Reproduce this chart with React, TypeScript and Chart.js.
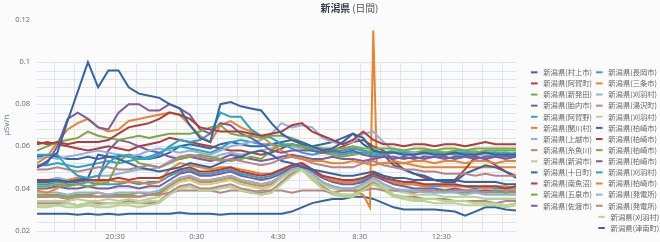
import { useEffect, useRef } from 'react';
import { Chart, registerables } from 'chart.js';

Chart.register(...registerables);

// ---------- DATA ----------
const times = ['16:40','17:10','17:40','18:10','18:40','19:10','19:40','20:10','20:40','21:10','21:40','22:10','22:40','23:10','23:40','0:10','0:40','1:10','1:40','2:10','2:40','3:10','3:40','4:10','4:40','5:10','5:40','6:10','6:40','7:10','7:40','8:10','8:40','9:10','9:40','10:10','10:40','11:10','11:40','12:10','12:40','13:10','13:40','14:10','14:40','15:10','15:40','16:10'];
const spikeTimes = ['16:40','17:10','17:40','18:10','18:40','19:10','19:40','20:10','20:40','21:10','21:40','22:10','22:40','23:10','23:40','0:10','0:40','1:10','1:40','2:10','2:40','3:10','3:40','4:10','4:40','5:10','5:40','6:10','6:40','7:10','7:40','8:10','8:40','9:00','9:10','9:20','9:40','10:10','10:40','11:10','11:40','12:10','12:40','13:10','13:40','14:10','14:40','15:10','15:40','16:10'];
const xTickLabels = ['20:30','0:30','4:30','8:30','12:30'];
const yTicks = [0.02, 0.04, 0.06, 0.08, 0.1, 0.12];

const seriesNames = ['新潟県(村上市)','新潟県(阿賀町)','新潟県(新発田)','新潟県(胎内市)','新潟県(阿賀野)','新潟県(関川村)','新潟県(上越市)','新潟県(糸魚川)','新潟県(新潟市)','新潟県(十日町)','新潟県(南魚沼)','新潟県(五泉市)','新潟県(佐渡市)','新潟県(長岡市)','新潟県(三条市)','新潟県(刈羽村)','新潟県(湯沢町)','新潟県(刈羽村)','新潟県(柏崎市)','新潟県(柏崎市)','新潟県(柏崎市)','新潟県(柏崎市)','新潟県(刈羽村)','新潟県(柏崎市)','新潟県(発電所)','新潟県(発電所)','新潟県(刈羽村)','新潟県(津南町)'];

const murakami = [0.050,0.053,0.057,0.072,0.086,0.100,0.088,0.096,0.096,0.088,0.085,0.084,0.083,0.080,0.078,0.070,0.064,0.062,0.080,0.081,0.079,0.078,0.077,0.071,0.066,0.063,0.062,0.060,0.058,0.059,0.062,0.066,0.064,0.058,0.057,0.057,0.056,0.056,0.057,0.056,0.056,0.057,0.056,0.056,0.057,0.056,0.056,0.056];
const aga = [0.062,0.061,0.062,0.061,0.062,0.062,0.062,0.063,0.066,0.069,0.070,0.071,0.073,0.076,0.075,0.073,0.069,0.068,0.067,0.067,0.067,0.066,0.065,0.066,0.067,0.070,0.071,0.067,0.065,0.063,0.061,0.063,0.067,0.063,0.061,0.061,0.060,0.061,0.061,0.060,0.061,0.061,0.060,0.061,0.062,0.061,0.061,0.061];
const shibata = [0.058,0.060,0.062,0.063,0.064,0.067,0.065,0.064,0.063,0.064,0.065,0.064,0.065,0.066,0.066,0.066,0.067,0.069,0.070,0.066,0.065,0.065,0.064,0.065,0.065,0.064,0.062,0.060,0.059,0.059,0.059,0.060,0.059,0.059,0.059,0.059,0.058,0.059,0.059,0.058,0.059,0.059,0.058,0.059,0.059,0.059,0.059,0.059];
const tainai = [0.050,0.052,0.060,0.073,0.076,0.073,0.069,0.068,0.076,0.080,0.080,0.077,0.077,0.080,0.078,0.075,0.068,0.066,0.071,0.070,0.066,0.064,0.061,0.058,0.057,0.058,0.058,0.058,0.057,0.058,0.057,0.058,0.056,0.055,0.055,0.055,0.054,0.055,0.054,0.055,0.055,0.054,0.055,0.055,0.054,0.055,0.055,0.055];
const agano = [0.056,0.056,0.056,0.050,0.046,0.045,0.046,0.052,0.056,0.055,0.054,0.054,0.056,0.060,0.063,0.062,0.063,0.066,0.076,0.074,0.074,0.068,0.065,0.064,0.061,0.059,0.057,0.056,0.057,0.057,0.056,0.057,0.057,0.056,0.056,0.057,0.057,0.056,0.057,0.057,0.056,0.057,0.057,0.056,0.057,0.057,0.056,0.057];
const sekikawa = [0.052,0.055,0.062,0.068,0.071,0.073,0.069,0.067,0.068,0.072,0.073,0.074,0.075,0.076,0.075,0.070,0.065,0.062,0.070,0.072,0.069,0.067,0.065,0.061,0.058,0.055,0.054,0.053,0.053,0.052,0.052,0.053,0.052,0.051,0.052,0.053,0.052,0.053,0.053,0.052,0.053,0.053,0.052,0.053,0.053,0.052,0.053,0.053];
const joetsu = [0.054,0.055,0.054,0.055,0.056,0.057,0.058,0.057,0.056,0.055,0.056,0.058,0.059,0.058,0.057,0.058,0.057,0.056,0.058,0.060,0.061,0.062,0.063,0.066,0.071,0.069,0.070,0.069,0.064,0.062,0.061,0.062,0.066,0.067,0.062,0.058,0.057,0.057,0.056,0.057,0.056,0.057,0.057,0.056,0.056,0.057,0.056,0.056];
const itoigawa = [0.049,0.049,0.050,0.049,0.048,0.049,0.050,0.050,0.049,0.049,0.050,0.051,0.050,0.052,0.055,0.056,0.055,0.054,0.053,0.054,0.053,0.052,0.051,0.052,0.054,0.055,0.054,0.052,0.051,0.050,0.050,0.050,0.052,0.053,0.051,0.050,0.049,0.049,0.048,0.048,0.047,0.047,0.047,0.046,0.047,0.046,0.046,0.046];
const niigata = [0.032,0.032,0.032,0.033,0.032,0.033,0.032,0.033,0.033,0.033,0.033,0.034,0.034,0.037,0.040,0.041,0.039,0.039,0.040,0.041,0.039,0.038,0.037,0.038,0.042,0.046,0.049,0.045,0.040,0.038,0.037,0.037,0.039,0.042,0.040,0.037,0.036,0.035,0.035,0.035,0.034,0.034,0.034,0.033,0.033,0.033,0.032,0.033];
const tokamachi = [0.043,0.043,0.044,0.043,0.044,0.045,0.056,0.055,0.054,0.052,0.050,0.049,0.048,0.049,0.050,0.052,0.051,0.050,0.052,0.054,0.055,0.057,0.058,0.056,0.053,0.052,0.050,0.049,0.048,0.047,0.046,0.046,0.047,0.048,0.046,0.045,0.045,0.044,0.044,0.044,0.044,0.044,0.043,0.043,0.043,0.043,0.042,0.042];
const minamiuonuma = [0.044,0.044,0.044,0.043,0.044,0.044,0.044,0.044,0.045,0.044,0.045,0.045,0.045,0.047,0.049,0.050,0.048,0.048,0.049,0.050,0.048,0.047,0.046,0.047,0.049,0.051,0.052,0.049,0.046,0.045,0.044,0.044,0.045,0.047,0.045,0.044,0.043,0.043,0.042,0.042,0.042,0.042,0.041,0.041,0.041,0.041,0.040,0.041];
const gosen = [0.041,0.041,0.042,0.041,0.042,0.041,0.042,0.043,0.053,0.056,0.052,0.051,0.050,0.052,0.054,0.055,0.056,0.055,0.054,0.053,0.054,0.055,0.054,0.058,0.061,0.061,0.060,0.058,0.057,0.056,0.055,0.056,0.057,0.058,0.057,0.058,0.058,0.057,0.058,0.058,0.057,0.058,0.058,0.057,0.058,0.058,0.058,0.058];
const sado = [0.043,0.043,0.044,0.043,0.043,0.044,0.044,0.058,0.063,0.062,0.060,0.058,0.057,0.055,0.054,0.055,0.054,0.053,0.054,0.056,0.055,0.054,0.053,0.054,0.055,0.056,0.055,0.054,0.054,0.055,0.054,0.054,0.053,0.054,0.055,0.054,0.055,0.054,0.055,0.055,0.054,0.055,0.055,0.054,0.055,0.055,0.054,0.055];
const nagaoka = [0.051,0.051,0.052,0.051,0.050,0.051,0.052,0.053,0.052,0.053,0.054,0.055,0.057,0.059,0.060,0.059,0.058,0.057,0.059,0.062,0.063,0.062,0.061,0.061,0.060,0.061,0.060,0.059,0.059,0.058,0.058,0.059,0.058,0.057,0.057,0.057,0.056,0.057,0.056,0.057,0.057,0.056,0.056,0.057,0.056,0.056,0.057,0.056];
const sanjo = [0.039,0.038,0.040,0.044,0.045,0.044,0.043,0.044,0.043,0.043,0.043,0.042,0.043,0.049,0.052,0.051,0.050,0.049,0.050,0.050,0.049,0.048,0.047,0.047,0.049,0.051,0.052,0.049,0.046,0.044,0.043,0.043,0.045,0.047,0.045,0.043,0.042,0.042,0.041,0.042,0.041,0.041,0.041,0.041,0.040,0.041,0.041,0.040];
const kariwa1 = [0.038,0.038,0.038,0.037,0.038,0.038,0.038,0.037,0.038,0.038,0.038,0.038,0.039,0.042,0.045,0.046,0.044,0.044,0.045,0.046,0.044,0.043,0.042,0.043,0.046,0.049,0.050,0.047,0.043,0.041,0.040,0.040,0.042,0.045,0.042,0.040,0.039,0.039,0.038,0.038,0.038,0.038,0.037,0.038,0.037,0.037,0.037,0.037];
const yuzawa = [0.036,0.036,0.036,0.035,0.036,0.036,0.036,0.036,0.036,0.036,0.036,0.037,0.037,0.038,0.039,0.039,0.039,0.039,0.038,0.039,0.039,0.038,0.039,0.039,0.039,0.038,0.039,0.039,0.039,0.038,0.039,0.039,0.039,0.040,0.039,0.039,0.039,0.038,0.039,0.039,0.038,0.039,0.039,0.039,0.038,0.039,0.039,0.039];
const kariwa2 = [0.034,0.034,0.034,0.034,0.035,0.034,0.034,0.035,0.034,0.035,0.034,0.035,0.036,0.040,0.043,0.044,0.042,0.042,0.043,0.044,0.042,0.041,0.040,0.041,0.045,0.048,0.050,0.046,0.042,0.040,0.039,0.039,0.041,0.044,0.041,0.039,0.038,0.037,0.037,0.037,0.036,0.036,0.036,0.036,0.035,0.035,0.035,0.035];
const kashiwazaki1 = [0.055,0.056,0.055,0.054,0.054,0.055,0.054,0.055,0.055,0.056,0.055,0.054,0.055,0.057,0.060,0.061,0.060,0.059,0.061,0.062,0.061,0.060,0.060,0.061,0.062,0.063,0.061,0.060,0.061,0.062,0.064,0.066,0.061,0.058,0.056,0.051,0.049,0.047,0.046,0.044,0.043,0.043,0.047,0.049,0.051,0.050,0.048,0.045];
const kashiwazaki2 = [0.061,0.062,0.061,0.060,0.059,0.058,0.059,0.060,0.059,0.058,0.060,0.061,0.062,0.064,0.063,0.062,0.061,0.060,0.059,0.058,0.058,0.057,0.056,0.057,0.059,0.061,0.060,0.058,0.057,0.058,0.060,0.062,0.063,0.060,0.058,0.053,0.049,0.047,0.045,0.044,0.043,0.044,0.049,0.055,0.054,0.051,0.048,0.046];
const kashiwazaki3 = [0.037,0.037,0.037,0.036,0.037,0.037,0.038,0.037,0.037,0.037,0.038,0.037,0.038,0.042,0.045,0.046,0.044,0.044,0.045,0.046,0.044,0.043,0.042,0.043,0.046,0.049,0.050,0.047,0.043,0.041,0.040,0.040,0.042,0.045,0.042,0.040,0.039,0.039,0.039,0.038,0.039,0.038,0.038,0.038,0.038,0.038,0.038,0.038];
const kashiwazaki4 = [0.040,0.040,0.041,0.040,0.040,0.041,0.040,0.040,0.041,0.041,0.040,0.041,0.041,0.044,0.047,0.048,0.046,0.046,0.047,0.048,0.046,0.045,0.044,0.045,0.047,0.050,0.051,0.048,0.045,0.043,0.042,0.042,0.043,0.046,0.044,0.042,0.041,0.040,0.040,0.040,0.039,0.040,0.039,0.039,0.039,0.039,0.038,0.039];
const kariwa3 = [0.042,0.042,0.043,0.042,0.042,0.043,0.042,0.042,0.042,0.043,0.042,0.043,0.043,0.046,0.048,0.049,0.047,0.047,0.048,0.049,0.047,0.046,0.045,0.046,0.048,0.050,0.051,0.049,0.046,0.044,0.043,0.043,0.044,0.047,0.045,0.043,0.042,0.042,0.041,0.041,0.041,0.041,0.041,0.040,0.041,0.040,0.040,0.040];
const kashiwazaki5 = [0.036,0.036,0.037,0.036,0.037,0.037,0.036,0.037,0.037,0.037,0.036,0.037,0.037,0.041,0.044,0.045,0.043,0.043,0.044,0.045,0.043,0.042,0.041,0.042,0.045,0.048,0.049,0.046,0.042,0.040,0.039,0.039,0.037,0.031,0.115,0.052,0.052,0.052,0.052,0.051,0.050,0.050,0.050,0.050,0.050,0.050,0.050,0.050,0.050,0.050];
const hatsudensho1 = [0.044,0.044,0.045,0.044,0.045,0.045,0.046,0.046,0.047,0.048,0.049,0.049,0.050,0.053,0.055,0.056,0.055,0.054,0.056,0.057,0.056,0.057,0.058,0.059,0.061,0.060,0.059,0.058,0.058,0.057,0.058,0.059,0.058,0.057,0.057,0.058,0.057,0.056,0.057,0.058,0.057,0.056,0.057,0.058,0.056,0.057,0.057,0.056];
const hatsudensho2 = [0.033,0.033,0.033,0.033,0.032,0.033,0.033,0.033,0.033,0.034,0.033,0.033,0.034,0.038,0.041,0.042,0.040,0.040,0.041,0.042,0.040,0.039,0.038,0.039,0.043,0.047,0.049,0.045,0.041,0.038,0.037,0.037,0.040,0.043,0.040,0.037,0.036,0.036,0.035,0.035,0.035,0.034,0.034,0.034,0.034,0.033,0.034,0.034];
const kariwa4 = [0.031,0.031,0.032,0.031,0.031,0.032,0.031,0.031,0.032,0.032,0.031,0.032,0.033,0.037,0.040,0.041,0.039,0.039,0.040,0.041,0.039,0.038,0.037,0.038,0.043,0.047,0.049,0.044,0.040,0.037,0.036,0.036,0.039,0.042,0.039,0.036,0.035,0.034,0.034,0.033,0.033,0.033,0.032,0.032,0.032,0.032,0.031,0.032];
const tsunan = [0.028,0.028,0.028,0.028,0.0275,0.028,0.0275,0.028,0.0275,0.028,0.028,0.028,0.028,0.028,0.0285,0.028,0.028,0.028,0.0275,0.028,0.028,0.028,0.028,0.028,0.028,0.029,0.031,0.033,0.034,0.035,0.035,0.036,0.036,0.035,0.033,0.031,0.030,0.030,0.030,0.030,0.0295,0.029,0.027,0.029,0.031,0.031,0.030,0.0295];

const seriesValues = [murakami, aga, shibata, tainai, agano, sekikawa, joetsu, itoigawa, niigata, tokamachi, minamiuonuma, gosen, sado, nagaoka, sanjo, kariwa1, yuzawa, kariwa2, kashiwazaki1, kashiwazaki2, kashiwazaki3, kashiwazaki4, kariwa3, kashiwazaki5, hatsudensho1, hatsudensho2, kariwa4, tsunan];
const seriesTimes = seriesValues.map((_, i) => (i === 23 ? spikeTimes : times));

// ---------- STYLE ----------
const palette = ['#35659f', '#b23b3b', '#7da83f', '#7b5c9e', '#2ca3c4', '#e8832f', '#8fb1dc', '#b68587', '#b9d292'];
const START = 16 * 60 + 40;
const END_OFFSET = 1410;
const toOffset = (t: string) => {
  const [h, m] = t.split(':').map(Number);
  return (h * 60 + m - START + 1440) % 1440;
};
const fmtTime = (off: number) => {
  const t = (START + off) % 1440;
  const h = Math.floor(t / 60);
  const m = t % 60;
  return `${h}:${m < 10 ? '0' + m : m}`;
};
const gridOffsets: number[] = [];
for (let v = 50; v <= END_OFFSET; v += 60) gridOffsets.push(v);

const TICK_FONT = '"Open Sans", "DejaVu Sans", sans-serif';
const CJK_FONT = '"Noto Sans CJK JP", sans-serif';

const bgPlugin = {
  id: 'bg',
  beforeDraw(chart: any) {
    const { ctx, width, height } = chart;
    ctx.save();
    ctx.fillStyle = '#fbfbfc';
    ctx.fillRect(0, 0, width, height);
    ctx.restore();
  },
};

const gridPlugin = {
  id: 'customGrid',
  beforeDatasetsDraw(chart: any) {
    const { ctx, chartArea } = chart;
    const xs = chart.scales.x;
    const ys = chart.scales.y;
    ctx.save();
    ctx.strokeStyle = '#e1e3ea';
    ctx.lineWidth = 1;
    const yTop = ys.getPixelForValue(0.1);
    for (let i = 0; i <= 20; i++) {
      const y = Math.round(ys.getPixelForValue(0.02 + i * 0.004)) + 0.5;
      ctx.beginPath();
      ctx.moveTo(chartArea.left, y);
      ctx.lineTo(chartArea.right, y);
      ctx.stroke();
    }
    gridOffsets.forEach((v) => {
      const x = Math.round(xs.getPixelForValue(v)) + 0.5;
      ctx.beginPath();
      ctx.moveTo(x, yTop);
      ctx.lineTo(x, chartArea.bottom);
      ctx.stroke();
    });
    ctx.restore();
  },
};

const titlePlugin = {
  id: 'customTitle',
  afterDraw(chart: any) {
    const { ctx } = chart;
    ctx.save();
    ctx.textBaseline = 'middle';
    const boldFont = `bold 9.8px ${CJK_FONT}`;
    const normFont = `9.8px ${CJK_FONT}`;
    ctx.font = boldFont;
    const w1 = ctx.measureText('新潟県').width;
    ctx.font = normFont;
    const w2 = ctx.measureText(' (日間)').width;
    const x0 = 349.5 - (w1 + w2) / 2;
    ctx.font = boldFont;
    ctx.fillStyle = '#333e4b';
    ctx.fillText('新潟県', x0, 8.5);
    ctx.font = normFont;
    ctx.fillStyle = '#555';
    ctx.fillText(' (日間)', x0 + w1, 8.5);
    ctx.restore();
  },
};

const legendPlugin = {
  id: 'sideLegend',
  afterDraw(chart: any) {
    const { ctx } = chart;
    ctx.save();
    ctx.font = `7.3px ${CJK_FONT}`;
    ctx.textBaseline = 'middle';
    chart.data.datasets.forEach((ds: any, i: number) => {
      const col = i < 13 ? 0 : 1;
      const row = i < 13 ? i : i - 13;
      const shift = col === 1 && row >= 13 ? 2.3 : 0;
      const x0 = (col === 0 ? 531 : 596) + shift;
      const y = 72.3 + row * 11.12;
      ctx.strokeStyle = ds.borderColor;
      ctx.lineWidth = 2;
      ctx.beginPath();
      ctx.moveTo(x0, y);
      ctx.lineTo(x0 + 6.5, y);
      ctx.stroke();
      ctx.fillStyle = '#666';
      ctx.fillText(ds.label, x0 + 12.3, y);
    });
    ctx.restore();
  },
};

export default function App() {
  const ref = useRef<HTMLCanvasElement>(null);
  useEffect(() => {
    document.body.style.margin = '0';
    document.body.style.background = '#fbfbfc';
    const datasets = seriesValues.map((vals, i) => ({
      label: seriesNames[i],
      data: vals.map((v, j) => ({ x: toOffset(seriesTimes[i][j]), y: v })),
      borderColor: palette[i % palette.length],
      backgroundColor: palette[i % palette.length],
      borderWidth: 2,
      pointRadius: 0,
      tension: 0,
      fill: false,
    }));
    const chart = new Chart(ref.current as HTMLCanvasElement, {
      type: 'line',
      data: { datasets },
      plugins: [bgPlugin, gridPlugin, titlePlugin, legendPlugin],
      options: {
        responsive: false,
        animation: false,
        devicePixelRatio: 1,
        layout: { padding: { top: 20, right: 144, left: 0, bottom: 0 } },
        plugins: { legend: { display: false }, tooltip: { enabled: false }, title: { display: false } },
        scales: {
          x: {
            type: 'linear',
            min: 0,
            max: END_OFFSET,
            grid: { display: false, drawTicks: false },
            border: { display: false },
            afterBuildTicks: (axis: any) => {
              axis.ticks = gridOffsets.map((v) => ({ value: v }));
            },
            afterFit: (axis: any) => {
              axis.height = 11;
            },
            ticks: {
              autoSkip: false,
              maxRotation: 0,
              padding: 2,
              color: '#666',
              font: { family: TICK_FONT, size: 7.5 },
              callback: (v: any) => {
                const s = fmtTime(Number(v));
                return xTickLabels.includes(s) ? s : '';
              },
            },
          },
          y: {
            min: yTicks[0],
            max: yTicks[yTicks.length - 1],
            grid: { display: false, drawTicks: false },
            border: { display: false },
            afterBuildTicks: (axis: any) => {
              axis.ticks = yTicks.map((v) => ({ value: v }));
            },
            afterFit: (axis: any) => {
              axis.width = 37;
            },
            ticks: {
              padding: 7,
              color: '#666',
              font: { family: TICK_FONT, size: 7.5 },
              callback: (v: any) => String(Number(Number(v).toFixed(3))),
            },
            title: {
              display: true,
              text: 'μSv/h',
              color: '#56708e',
              font: { family: TICK_FONT, size: 8 },
              padding: { top: 2, bottom: 0 },
            },
          },
        },
      } as any,
    });
    return () => chart.destroy();
  }, []);
  return (
    <div style={{ width: 660, height: 242 }}>
      <canvas ref={ref} width={660} height={242} style={{ display: 'block', width: 660, height: 242 }} />
    </div>
  );
}
